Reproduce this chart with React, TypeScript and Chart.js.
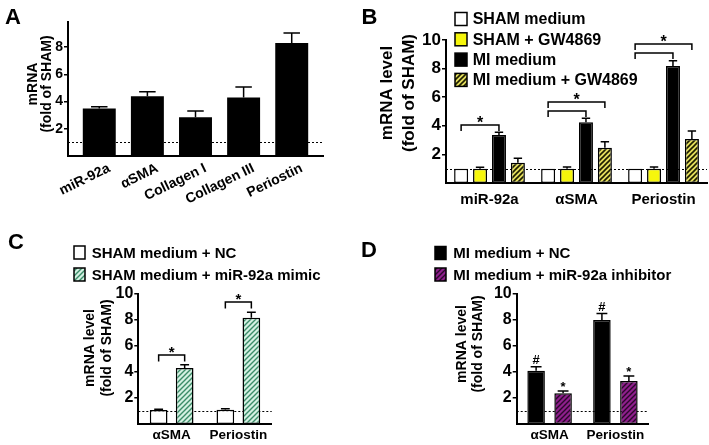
import React, { useEffect, useRef } from 'react';
import { Chart, registerables } from 'chart.js';

Chart.register(...registerables);

const FONT = '"Liberation Sans", Arial, Helvetica, sans-serif';
const REFERENCE_LEVEL = 1;

// ---------- Panel A ----------
const A_CATEGORIES = ['miR-92a', 'αSMA', 'Collagen I', 'Collagen III', 'Periostin'];
const A_VALUES = [3.5, 4.4, 2.85, 4.3, 8.3];
const A_ERRORS = [0.12, 0.32, 0.46, 0.78, 0.75];
const A_Y_TITLE = ['mRNA', '(fold of SHAM)'];
const A_Y_TICKS = [2, 4, 6, 8];
const A_Y_MAX = 9.85;

// ---------- Panel B ----------
const B_CATEGORIES = ['miR-92a', 'αSMA', 'Periostin'];
const B_SERIES = ['SHAM medium', 'SHAM + GW4869', 'MI medium', 'MI medium + GW4869'];
const B_SHAM = [1, 1, 1];
const B_SHAM_ERR = [0, 0, 0];
const B_SHAM_GW = [1, 1, 1];
const B_SHAM_GW_ERR = [0.1, 0.12, 0.12];
const B_MI = [3.36, 4.24, 8.18];
const B_MI_ERR = [0.19, 0.28, 0.37];
const B_MI_GW = [1.42, 2.47, 3.08];
const B_MI_GW_ERR = [0.31, 0.42, 0.56];
const B_BRACKETS = [
  { category: 0, from: 0, to: 2 },
  { category: 1, from: 0, to: 2 },
  { category: 1, from: 0, to: 3 },
  { category: 2, from: 0, to: 2 },
  { category: 2, from: 0, to: 3 },
];

// ---------- Shared ----------
const Y_TITLE = ['mRNA level', '(fold of SHAM)'];
const Y_TICKS = [2, 4, 6, 8, 10];
const Y_MAX = 10;

// ---------- Panel C ----------
const C_CATEGORIES = ['αSMA', 'Periostin'];
const C_SERIES = ['SHAM medium + NC', 'SHAM medium + miR-92a mimic'];
const C_NC = [1.08, 1.1];
const C_NC_ERR = [0.05, 0.07];
const C_MIMIC = [4.3, 8.18];
const C_MIMIC_ERR = [0.25, 0.41];
const C_BRACKETS = [
  { category: 0, from: 0, to: 1 },
  { category: 1, from: 0, to: 1 },
];

// ---------- Panel D ----------
const D_CATEGORIES = ['αSMA', 'Periostin'];
const D_SERIES = ['MI medium + NC', 'MI medium + miR-92a inhibitor'];
const D_NC = [4.1, 8.0];
const D_NC_ERR = [0.3, 0.5];
const D_INH = [2.36, 3.3];
const D_INH_ERR = [0.18, 0.4];
const D_NC_MARKS = ['#', '#'];
const D_INH_MARKS = ['*', '*'];

type Fill =
  | { type: 'solid'; color: string }
  | { type: 'hatch'; bg: string; fg: string; size: number; lw: number };

interface DS {
  label: string;
  values: number[];
  errors: number[];
  fill: Fill;
  border: boolean;
  marks?: string[];
}

interface Spec {
  width: number;
  height: number;
  area: { left: number; top: number; right: number; bottom: number };
  linearX?: boolean;
  xMargin?: number;
  categories: string[];
  datasets: DS[];
  yMax: number;
  yTicks: number[];
  tickFont: number;
  xFont: number;
  xRotation: number;
  xLabelOffset: number;
  xPadding: number;
  barPercentage: number;
  categoryPercentage: number;
  title: string[];
  titleX: number[];
  titleY: number;
  titleFont: number;
  letter: string;
  letterX: number;
  letterY: number;
  legend?: { x: number; textX: number; y0: number; gap: number; w: number; h: number; font: number };
  brackets?: { category: number; from: number; to: number }[];
  bracketOffset?: number;
  bracketStep?: number;
  bracketDrop?: number;
  starFont?: number;
  markFont?: number;
  markGap?: number;
  capRatio: number;
}

function makeFill(f: Fill): any {
  if (f.type === 'solid') return f.color;
  const c = document.createElement('canvas');
  c.width = f.size;
  c.height = f.size;
  const g = c.getContext('2d');
  if (!g) return f.bg;
  const s = f.size;
  g.fillStyle = f.bg;
  g.fillRect(0, 0, s, s);
  g.strokeStyle = f.fg;
  g.lineWidth = f.lw;
  g.beginPath();
  g.moveTo(-1, s + 1);
  g.lineTo(s + 1, -1);
  g.moveTo(-s / 2 - 1, s / 2 + 1);
  g.lineTo(s / 2 + 1, -s / 2 - 1);
  g.moveTo(s / 2 - 1, s * 1.5 + 1);
  g.lineTo(s * 1.5 + 1, s / 2 - 1);
  g.stroke();
  return g.createPattern(c, 'repeat') || f.bg;
}

function bold(size: number) {
  return `bold ${size}px ${FONT}`;
}

function glyphBaseline(ch: string, center: number, fs: number) {
  if (ch === '*') return center + 0.58 * fs;
  return center + 0.36 * fs;
}

function makeDecor(spec: Spec, fills: any[]) {
  return {
    id: 'decor',
    beforeDatasetsDraw(chart: any) {
      const { ctx, chartArea } = chart;
      const y = Math.round(chart.scales.y.getPixelForValue(REFERENCE_LEVEL)) + 0.5;
      ctx.save();
      ctx.setLineDash([2, 2]);
      ctx.lineWidth = 1;
      ctx.strokeStyle = '#000';
      ctx.beginPath();
      ctx.moveTo(chartArea.left, y);
      ctx.lineTo(chartArea.right, y);
      ctx.stroke();
      ctx.restore();
    },
    afterDatasetsDraw(chart: any) {
      const { ctx } = chart;
      const ys = chart.scales.y;
      ctx.save();
      ctx.strokeStyle = '#000';
      ctx.fillStyle = '#000';
      ctx.lineWidth = 1.5;
      // error bars
      spec.datasets.forEach((d, di) => {
        const meta = chart.getDatasetMeta(di);
        meta.data.forEach((el: any, i: number) => {
          const err = d.errors[i];
          if (!err) return;
          const top = ys.getPixelForValue(d.values[i]);
          const et = ys.getPixelForValue(d.values[i] + err);
          const half = (el.width * spec.capRatio) / 2;
          ctx.beginPath();
          ctx.moveTo(el.x, top);
          ctx.lineTo(el.x, et);
          ctx.moveTo(el.x - half, et);
          ctx.lineTo(el.x + half, et);
          ctx.stroke();
        });
        if (d.marks) {
          const fs = spec.markFont || 13;
          ctx.font = bold(fs);
          ctx.textAlign = 'center';
          ctx.textBaseline = 'alphabetic';
          meta.data.forEach((el: any, i: number) => {
            const m = d.marks![i];
            if (!m) return;
            const et = ys.getPixelForValue(d.values[i] + d.errors[i]);
            const c = et - (spec.markGap || 7);
            ctx.fillText(m, el.x, glyphBaseline(m, c, fs));
          });
        }
      });
      // significance brackets
      if (spec.brackets) {
        const cats = Array.from(new Set(spec.brackets.map((b) => b.category)));
        cats.forEach((cat) => {
          const list = spec.brackets!
            .filter((b) => b.category === cat)
            .sort((a, b) => a.to - a.from - (b.to - b.from));
          let top = Infinity;
          spec.datasets.forEach((d) => {
            top = Math.min(top, ys.getPixelForValue(d.values[cat] + d.errors[cat]));
          });
          list.forEach((b, k) => {
            const yl = Math.round(top - (spec.bracketOffset || 8) - k * (spec.bracketStep || 9));
            const x1 = chart.getDatasetMeta(b.from).data[cat].x;
            const x2 = chart.getDatasetMeta(b.to).data[cat].x;
            const drop = spec.bracketDrop || 6;
            ctx.beginPath();
            ctx.moveTo(x1, yl + drop);
            ctx.lineTo(x1, yl);
            ctx.lineTo(x2, yl);
            ctx.lineTo(x2, yl + drop);
            ctx.stroke();
            if (k === list.length - 1) {
              const fs = spec.starFont || 16;
              ctx.font = bold(fs);
              ctx.textAlign = 'center';
              ctx.textBaseline = 'alphabetic';
              ctx.fillText('*', (x1 + x2) / 2, glyphBaseline('*', yl - 6.5, fs));
            }
          });
        });
      }
      ctx.restore();
    },
    afterDraw(chart: any) {
      const { ctx } = chart;
      ctx.save();
      ctx.fillStyle = '#000';
      // panel letter
      ctx.font = bold(22);
      ctx.textAlign = 'left';
      ctx.textBaseline = 'alphabetic';
      ctx.fillText(spec.letter, spec.letterX, spec.letterY);
      // y title
      ctx.font = bold(spec.titleFont);
      ctx.textAlign = 'center';
      ctx.textBaseline = 'middle';
      spec.title.forEach((t, i) => {
        ctx.save();
        ctx.translate(spec.titleX[i], spec.titleY);
        ctx.rotate(-Math.PI / 2);
        ctx.fillText(t, 0, 0);
        ctx.restore();
      });
      // legend
      if (spec.legend) {
        const L = spec.legend;
        ctx.font = bold(L.font);
        ctx.textAlign = 'left';
        ctx.textBaseline = 'middle';
        spec.datasets.forEach((d, i) => {
          const cy = L.y0 + i * L.gap;
          ctx.fillStyle = fills[i];
          ctx.fillRect(L.x, cy - L.h / 2, L.w, L.h);
          ctx.strokeStyle = '#000';
          ctx.lineWidth = 1.5;
          ctx.strokeRect(L.x, cy - L.h / 2, L.w, L.h);
          ctx.fillStyle = '#000';
          ctx.fillText(d.label, L.textX, cy + 1);
        });
      }
      ctx.restore();
    },
  };
}

function buildConfig(spec: Spec): any {
  const fills = spec.datasets.map((d) => makeFill(d.fill));
  const n = spec.categories.length;
  const xTicks: any = {
    autoSkip: false,
    minRotation: spec.xRotation,
    maxRotation: spec.xRotation,
    labelOffset: spec.xLabelOffset,
    padding: spec.xPadding,
    color: '#000',
    font: { family: FONT, size: spec.xFont, weight: 'bold' },
  };
  const xScale: any = {
    grid: { display: false, drawTicks: false },
    border: { display: true, color: '#000', width: 2 },
    ticks: xTicks,
    afterFit: (s: any) => {
      s.height = spec.height - spec.area.bottom;
      s.paddingLeft = 0;
      s.paddingRight = 0;
      s.paddingTop = 0;
      s.paddingBottom = 0;
    },
  };
  if (spec.linearX) {
    xScale.type = 'linear';
    xScale.offset = false;
    xScale.min = -(spec.xMargin || 0.5);
    xScale.max = n - 1 + (spec.xMargin || 0.5);
    xScale.afterBuildTicks = (s: any) => {
      s.ticks = spec.categories.map((_, i) => ({ value: i }));
    };
    xTicks.callback = (v: any) => spec.categories[v] ?? '';
  } else {
    xScale.type = 'category';
    xScale.offset = true;
  }
  return {
    type: 'bar',
    data: {
      labels: spec.linearX ? undefined : spec.categories,
      datasets: spec.datasets.map((d, i) => ({
        label: d.label,
        data: spec.linearX ? d.values.map((v, j) => ({ x: j, y: v })) : d.values,
        backgroundColor: fills[i],
        borderColor: '#000',
        borderWidth: d.border ? 1.5 : 0,
        borderSkipped: false,
        barPercentage: spec.barPercentage,
        categoryPercentage: spec.categoryPercentage,
      })),
    },
    options: {
      responsive: false,
      animation: false,
      devicePixelRatio: 1,
      layout: {
        padding: { left: 0, top: spec.area.top, right: spec.width - spec.area.right, bottom: 0 },
      },
      plugins: { legend: { display: false }, tooltip: { enabled: false } },
      scales: {
        x: xScale,
        y: {
          min: 0,
          max: spec.yMax,
          grid: {
            display: true,
            drawOnChartArea: false,
            drawTicks: true,
            tickLength: 4,
            color: '#000',
            lineWidth: 1.5,
          },
          border: { display: true, color: '#000', width: 2 },
          ticks: { padding: 1, color: '#000', font: { family: FONT, size: spec.tickFont, weight: 'bold' } },
          afterBuildTicks: (s: any) => {
            s.ticks = spec.yTicks.map((v) => ({ value: v }));
          },
          afterFit: (s: any) => {
            s.width = spec.area.left;
            s.paddingTop = 0;
            s.paddingBottom = 0;
          },
        },
      },
    },
    plugins: [makeDecor(spec, fills)],
  };
}

const SPEC_A: Spec = {
  width: 340,
  height: 225,
  area: { left: 68, top: 22, right: 323, bottom: 156 },
  linearX: true,
  xMargin: 0.65,
  categories: A_CATEGORIES,
  datasets: [
    { label: 'MI medium', values: A_VALUES, errors: A_ERRORS, fill: { type: 'solid', color: '#000' }, border: false },
  ],
  yMax: A_Y_MAX,
  yTicks: A_Y_TICKS,
  tickFont: 14,
  xFont: 14,
  xRotation: 26,
  xLabelOffset: 10,
  xPadding: 4,
  barPercentage: 0.685,
  categoryPercentage: 1,
  title: A_Y_TITLE,
  titleX: [33, 47.5],
  titleY: 84,
  titleFont: 14,
  letter: 'A',
  letterX: 5,
  letterY: 24,
  capRatio: 0.5,
};

const SPEC_B: Spec = {
  width: 369,
  height: 225,
  area: { left: 106, top: 40, right: 367, bottom: 183 },
  categories: B_CATEGORIES,
  datasets: [
    { label: B_SERIES[0], values: B_SHAM, errors: B_SHAM_ERR, fill: { type: 'solid', color: '#ffffff' }, border: true },
    { label: B_SERIES[1], values: B_SHAM_GW, errors: B_SHAM_GW_ERR, fill: { type: 'solid', color: '#f6f60c' }, border: true },
    { label: B_SERIES[2], values: B_MI, errors: B_MI_ERR, fill: { type: 'solid', color: '#000000' }, border: true },
    { label: B_SERIES[3], values: B_MI_GW, errors: B_MI_GW_ERR, fill: { type: 'hatch', bg: '#e4de5c', fg: '#1e1e00', size: 5, lw: 1.6 }, border: true },
  ],
  yMax: Y_MAX,
  yTicks: Y_TICKS,
  tickFont: 17,
  xFont: 15,
  xRotation: 0,
  xLabelOffset: 0,
  xPadding: 8,
  barPercentage: 0.74,
  categoryPercentage: 0.87,
  title: Y_TITLE,
  titleX: [47.7, 69.3],
  titleY: 93,
  titleFont: 17,
  letter: 'B',
  letterX: 21.5,
  letterY: 24,
  legend: { x: 115, textX: 132.7, y0: 19, gap: 20.3, w: 12, h: 13, font: 16 },
  brackets: B_BRACKETS,
  bracketOffset: 7.5,
  bracketStep: 9,
  bracketDrop: 6,
  starFont: 16,
  capRatio: 0.6,
};

const SPEC_C: Spec = {
  width: 355,
  height: 220,
  area: { left: 138.3, top: 69, right: 271.7, bottom: 199 },
  categories: C_CATEGORIES,
  datasets: [
    { label: C_SERIES[0], values: C_NC, errors: C_NC_ERR, fill: { type: 'solid', color: '#ffffff' }, border: true },
    { label: C_SERIES[1], values: C_MIMIC, errors: C_MIMIC_ERR, fill: { type: 'hatch', bg: '#d4f0e2', fg: '#3b8c68', size: 5, lw: 1.4 }, border: true },
  ],
  yMax: Y_MAX,
  yTicks: Y_TICKS,
  tickFont: 16,
  xFont: 13.5,
  xRotation: 0,
  xLabelOffset: 0,
  xPadding: 3,
  barPercentage: 0.68,
  categoryPercentage: 0.78,
  title: Y_TITLE,
  titleX: [90, 106.7],
  titleY: 123,
  titleFont: 14,
  letter: 'C',
  letterX: 8,
  letterY: 23.5,
  legend: { x: 74, textX: 91.7, y0: 27.5, gap: 22, w: 11, h: 13, font: 15 },
  brackets: C_BRACKETS,
  bracketOffset: 10,
  bracketStep: 9,
  bracketDrop: 6.5,
  starFont: 15,
  capRatio: 0.5,
};

const SPEC_D: Spec = {
  width: 354,
  height: 220,
  area: { left: 161.7, top: 69, right: 293.3, bottom: 199 },
  categories: D_CATEGORIES,
  datasets: [
    { label: D_SERIES[0], values: D_NC, errors: D_NC_ERR, fill: { type: 'solid', color: '#000000' }, border: true, marks: D_NC_MARKS },
    { label: D_SERIES[1], values: D_INH, errors: D_INH_ERR, fill: { type: 'hatch', bg: '#8e1f8c', fg: '#2a072a', size: 5, lw: 1.4 }, border: true, marks: D_INH_MARKS },
  ],
  yMax: Y_MAX,
  yTicks: Y_TICKS,
  tickFont: 16,
  xFont: 13.5,
  xRotation: 0,
  xLabelOffset: 0,
  xPadding: 3,
  barPercentage: 0.65,
  categoryPercentage: 0.82,
  title: Y_TITLE,
  titleX: [106.7, 123.3],
  titleY: 119,
  titleFont: 14,
  letter: 'D',
  letterX: 6,
  letterY: 31.5,
  legend: { x: 80, textX: 98.3, y0: 28, gap: 21.5, w: 11, h: 13, font: 15 },
  markFont: 13,
  markGap: 7.5,
  capRatio: 0.62,
};

function Panel({ spec, left, top }: { spec: Spec; left: number; top: number }) {
  const ref = useRef<HTMLCanvasElement>(null);
  useEffect(() => {
    if (!ref.current) return;
    const chart = new Chart(ref.current, buildConfig(spec));
    return () => chart.destroy();
  }, [spec]);
  return (
    <canvas
      ref={ref}
      width={spec.width}
      height={spec.height}
      style={{ position: 'absolute', left, top, width: spec.width, height: spec.height }}
    />
  );
}

export default function App() {
  return (
    <div
      style={{
        position: 'fixed',
        left: 0,
        top: 0,
        width: 709,
        height: 445,
        background: '#ffffff',
        overflow: 'hidden',
      }}
    >
      <Panel spec={SPEC_A} left={0} top={0} />
      <Panel spec={SPEC_B} left={340} top={0} />
      <Panel spec={SPEC_C} left={0} top={225} />
      <Panel spec={SPEC_D} left={355} top={225} />
    </div>
  );
}
